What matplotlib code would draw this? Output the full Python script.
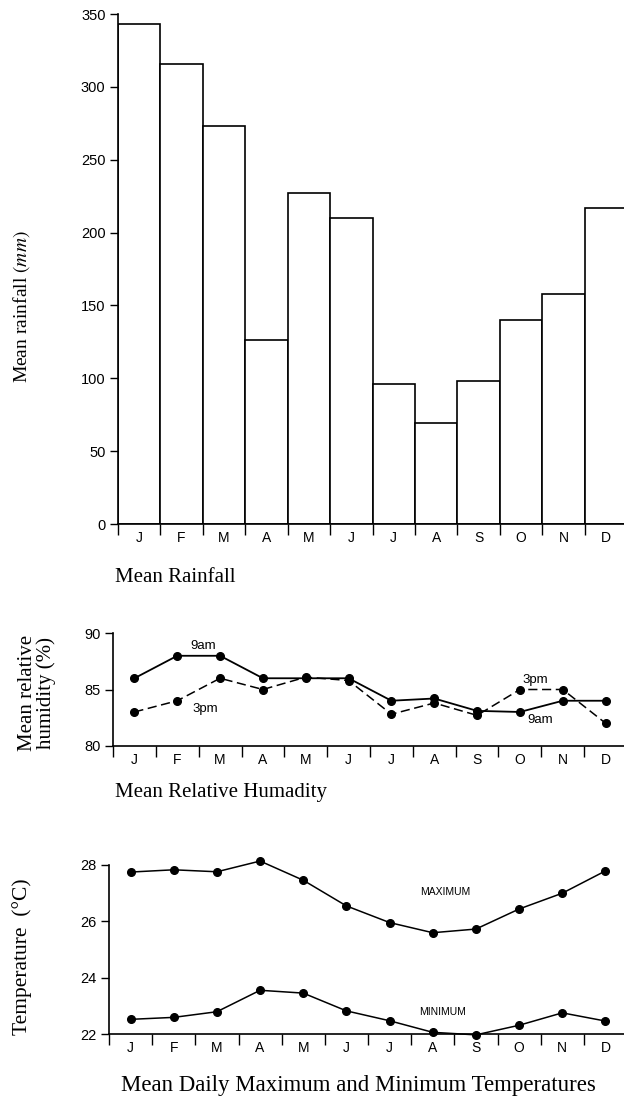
import matplotlib
matplotlib.use("Agg")
import matplotlib.pyplot as plt
import numpy as np

# monthly data
months = ["J", "F", "M", "A", "M", "J", "J", "A", "S", "O", "N", "D"]
rainfall = [343, 316, 273, 126, 227, 210, 96, 69, 98, 140, 158, 217]
hum_9am = [86, 88, 88, 86, 86, 86, 84, 84.2, 83.1, 83, 84, 84]
hum_3pm = [83, 84, 86, 85, 86.1, 85.8, 82.8, 83.8, 82.7, 85, 85, 82]
temp_max = [27.75, 27.83, 27.76, 28.14, 27.46, 26.55, 25.96, 25.6, 25.73, 26.44, 27.0, 27.79]
temp_min = [22.53, 22.6, 22.8, 23.56, 23.46, 22.83, 22.48, 22.07, 21.98, 22.32, 22.76, 22.47]
rain_ticks = [0, 50, 100, 150, 200, 250, 300, 350]
hum_ticks = [80, 85, 90]
temp_ticks = [22, 24, 26, 28]

serif = "Liberation Serif"
sans = "Liberation Sans"
plt.rcParams["font.family"] = sans
plt.rcParams["mathtext.fontset"] = "stix"

W, H = 624, 1098
fig = plt.figure(figsize=(W / 100, H / 100), dpi=100)


def box(left, top, right, bottom):
    return [left / W, 1 - bottom / H, (right - left) / W, (bottom - top) / H]


def month_axis(ax):
    n = len(months)
    ax.set_xlim(0, n)
    ax.set_xticks(np.arange(n + 1))
    ax.set_xticklabels([])
    ax.set_xticks(np.arange(n) + 0.5, minor=True)
    ax.set_xticklabels(months, minor=True, fontsize=10)
    ax.tick_params(axis="x", which="major", direction="out", length=8, width=1)
    ax.tick_params(axis="x", which="minor", length=0, pad=5)
    ax.tick_params(axis="y", direction="out", length=6, width=1, labelsize=10.5, pad=3)
    for s in ["top", "right"]:
        ax.spines[s].set_visible(False)
    for s in ["left", "bottom"]:
        ax.spines[s].set_linewidth(1.2)


# rainfall
ax1 = fig.add_axes(box(118, 14, 627, 524))
x = np.arange(len(months))
ax1.bar(x, rainfall, width=1, align="edge", facecolor="white",
        edgecolor="black", linewidth=1.2)
ax1.set_ylim(0, 350)
ax1.set_yticks(rain_ticks)
month_axis(ax1)
fig.text(22 / W, 1 - 307 / H, r"Mean rainfall $\mathit{(mm)}$", rotation=90,
         ha="center", va="center", family=serif, fontsize=14)
fig.text(115 / W, 1 - 577 / H, "Mean Rainfall", family=serif, fontsize=15,
         va="center")

# humidity
ax2 = fig.add_axes(box(113, 633.3, 627, 745.7))
xc = x + 0.5
ax2.plot(xc, hum_9am, "-", color="black", lw=1.3, marker="o", ms=5.5)
ax2.plot(xc, hum_3pm, "--", color="black", lw=1.1, marker="o", ms=5.5, dashes=(6, 3))
ax2.set_ylim(80, 90)
ax2.set_yticks(hum_ticks)
month_axis(ax2)
ax2.text(2.1, 88.9, "9am", ha="center", va="center", fontsize=9.5)
ax2.text(2.15, 83.3, "3pm", ha="center", va="center", fontsize=9.5)
ax2.text(9.87, 85.85, "3pm", ha="center", va="center", fontsize=9.5)
ax2.text(9.97, 82.3, "9am", ha="center", va="center", fontsize=9.5)
fig.text(37 / W, 1 - 693 / H, "Mean relative\nhumidity (%)", rotation=90,
         ha="center", va="center", family=serif, fontsize=15, linespacing=0.95)
fig.text(115 / W, 1 - 793 / H, "Mean Relative Humadity", family=serif,
         fontsize=15, va="center")

# temperature
ax3 = fig.add_axes(box(109, 865, 627, 1034.3))
ax3.plot(xc, temp_max, "-", color="black", lw=1.1, marker="o", ms=5.5)
ax3.plot(xc, temp_min, "-", color="black", lw=1.1, marker="o", ms=5.5)
ax3.set_ylim(22, 28)
ax3.set_yticks(temp_ticks)
for ln in ax3.lines:
    ln.set_clip_on(False)
month_axis(ax3)
ax3.text(7.78, 27.04, "MAXIMUM", ha="center", va="center", fontsize=7.5)
ax3.text(7.73, 22.79, "MINIMUM", ha="center", va="center", fontsize=7.5)
fig.text(22 / W, 1 - 957 / H, "Temperature  (°C)", rotation=90,
         ha="center", va="center", family=serif, fontsize=15.5)
fig.text(121 / W, 1 - 1085 / H, "Mean Daily Maximum and Minimum Temperatures",
         family=serif, fontsize=16.5, va="center")

fig.savefig("out.png", dpi=100)
